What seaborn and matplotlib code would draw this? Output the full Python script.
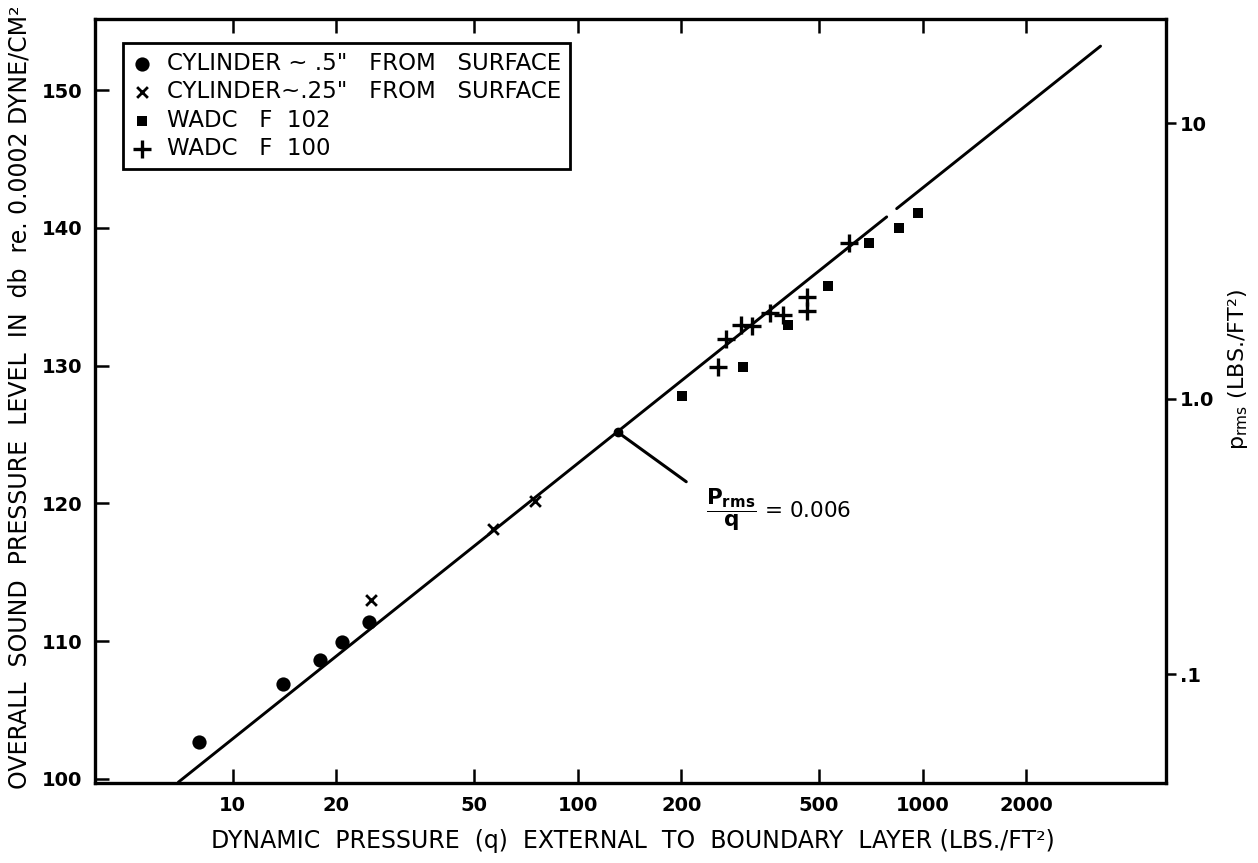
import numpy as np
import pandas as pd
import matplotlib
matplotlib.use("Agg")
import matplotlib.pyplot as plt
import seaborn as sns
from matplotlib.ticker import FixedLocator, NullLocator, FixedFormatter

# ---------------- data ----------------
CYL_05_Q = [8.0, 14.0, 17.9, 20.8, 24.9]
CYL_05_DB = [102.7, 106.9, 108.6, 109.9, 111.4]

CYL_025_Q = [25.2, 56.9, 75.0]
CYL_025_DB = [113.0, 118.1, 120.2]

F102_Q = [201, 302, 406, 533, 697, 855, 972]
F102_DB = [127.8, 129.9, 132.95, 135.8, 138.9, 140.0, 141.05]

F100_Q = [256, 270, 298, 320, 361, 394, 461, 461, 611]
F100_DB = [129.9, 131.9, 132.95, 132.9, 133.8, 133.7, 135.0, 134.0, 138.9]

# fitted line p_rms/q = 0.006 (two segments, with the small gap of the original)
LINE_SEG1_Q = [6.96, 787]
LINE_SEG1_DB = [99.75, 140.8]
LINE_SEG2_Q = [841, 3280]
LINE_SEG2_DB = [141.4, 153.2]

ANNOT_Q = 131.0
ANNOT_DB = 125.15
ANNOT_END_Q = 209.6
ANNOT_END_DB = 121.45
ANNOT_TEXT_Q = 236.0
ANNOT_TEXT_DB = 119.5

LEGEND_LABELS = ['CYLINDER ~ .5"   FROM   SURFACE',
                 'CYLINDER~.25"   FROM   SURFACE',
                 'WADC   F  102',
                 'WADC   F  100']

X_TICKS = [10, 20, 50, 100, 200, 500, 1000, 2000]
X_TICK_LABELS = ["10", "20", "50", "100", "200", "500", "1000", "2000"]
Y_TICKS = [100, 110, 120, 130, 140, 150]
P_TICKS = [10.0, 1.0, 0.1]           # lbs/ft^2
P_TICK_LABELS = ["10", "1.0", ".1"]

# conversion lbs/ft^2 -> dB re 0.0002 dyne/cm^2
LBFT2_TO_DYNECM2 = 478.8
P_REF = 0.0002

# ---------------- style ----------------
sns.set_theme(style="white")
plt.rcParams['font.family'] = ['DejaVu Sans']
plt.rcParams['mathtext.fontset'] = 'dejavusans'
plt.rcParams['axes.linewidth'] = 2.4
for k in ['text.color', 'axes.labelcolor', 'xtick.color', 'ytick.color', 'axes.edgecolor']:
    plt.rcParams[k] = 'black'

W, H = 1258, 863
fig = plt.figure(figsize=(W / 100, H / 100), dpi=100)
fig.patch.set_facecolor("white")
L, R, T, B = 95, 1166, 19, 783
ax = fig.add_axes([L / W, (H - B) / H, (R - L) / W, (B - T) / H])
ax.set_facecolor("white")

ax.set_xscale("log")
ax.set_xlim(3.99, 5077)
ax.set_ylim(99.69, 155.17)

# line
sns.lineplot(x=LINE_SEG1_Q, y=LINE_SEG1_DB, ax=ax, color="black", linewidth=2.1,
             estimator=None, sort=False)
sns.lineplot(x=LINE_SEG2_Q, y=LINE_SEG2_DB, ax=ax, color="black", linewidth=2.1,
             estimator=None, sort=False)

# scatter series
sns.scatterplot(x=CYL_05_Q, y=CYL_05_DB, ax=ax, marker="o", s=105, color="black",
                edgecolor="black", linewidth=0, label=LEGEND_LABELS[0], zorder=3)
sns.scatterplot(x=CYL_025_Q, y=CYL_025_DB, ax=ax, marker="x", s=60, color="black",
                linewidth=2.0, label=LEGEND_LABELS[1], zorder=3)
sns.scatterplot(x=F102_Q, y=F102_DB, ax=ax, marker="s", s=62, color="black",
                edgecolor="black", linewidth=0, label=LEGEND_LABELS[2], zorder=3)
sns.scatterplot(x=F100_Q, y=F100_DB, ax=ax, marker="+", s=150, color="black",
                linewidth=2.4, label=LEGEND_LABELS[3], zorder=3)

# annotation
ax.plot([ANNOT_Q], [ANNOT_DB], marker="o", markersize=6, color="black", zorder=4)
ax.annotate("", xy=(ANNOT_Q, ANNOT_DB), xytext=(ANNOT_END_Q, ANNOT_END_DB),
            arrowprops=dict(arrowstyle="-", color="black", lw=2.2))
ax.text(ANNOT_TEXT_Q, ANNOT_TEXT_DB,
        r"$\dfrac{\mathbf{P}_{\mathbf{rms}}}{\mathbf{q}}$ = 0.006",
        fontsize=15.5, ha="left", va="center", color="black")

# ticks
ax.xaxis.set_major_locator(FixedLocator(X_TICKS))
ax.xaxis.set_major_formatter(FixedFormatter(X_TICK_LABELS))
ax.xaxis.set_minor_locator(NullLocator())
ax.set_yticks(Y_TICKS)
ax.set_yticklabels([str(v) for v in Y_TICKS])
ax.yaxis.set_minor_locator(NullLocator())
ax.tick_params(axis="both", which="major", direction="in", length=10, width=1.8,
               top=True, right=True, bottom=True, left=True, colors="black",
               labelsize=14, pad=9)
for lab in ax.get_xticklabels() + ax.get_yticklabels():
    lab.set_fontweight("bold")

for sp in ax.spines.values():
    sp.set_color("black")
    sp.set_linewidth(2.4)

# right axis: p_rms in lbs/ft^2
ax2 = ax.twinx()
ax2.set_ylim(ax.get_ylim())
p_pos = [20 * np.log10(p * LBFT2_TO_DYNECM2 / P_REF) for p in P_TICKS]
ax2.set_yticks(p_pos)
ax2.set_yticklabels(P_TICK_LABELS)
ax2.yaxis.set_minor_locator(NullLocator())
ax2.tick_params(axis="y", direction="out", length=7, width=1.8, labelsize=14,
                pad=3, colors="black", right=True, left=False)
for lab in ax2.get_yticklabels():
    lab.set_fontweight("bold")
for sp in ax2.spines.values():
    sp.set_visible(False)
ax2.grid(False)

# labels
ax.set_xlabel("DYNAMIC  PRESSURE  (q)  EXTERNAL  TO  BOUNDARY  LAYER (LBS./FT²)",
              fontsize=17, color="black")
ax.xaxis.set_label_coords((633 - L) / (R - L), (B - 829) / (B - T))
ax.set_ylabel("OVERALL  SOUND  PRESSURE  LEVEL  IN  db  re. 0.0002 DYNE/CM²",
              fontsize=17, color="black")
ax.yaxis.set_label_coords((32 - L) / (R - L), (B - 397) / (B - T))
ax2.set_ylabel(r"p$_{\mathrm{rms}}$ (LBS./FT²)", fontsize=16, color="black")
ax2.yaxis.set_label_coords((1226 - L) / (R - L), (B - 370) / (B - T))

# legend
leg = ax.legend(loc="upper left",
                bbox_to_anchor=((123 - L) / (R - L), (B - 43) / (B - T)),
                borderaxespad=0, fontsize=16.5, frameon=True, fancybox=False,
                edgecolor="black", labelspacing=0.23, handlelength=0.9,
                handletextpad=0.6, borderpad=0.4)
leg.get_frame().set_linewidth(2.0)
leg.get_frame().set_facecolor("white")
leg.get_frame().set_alpha(1.0)
for t in leg.get_texts():
    t.set_color("black")

fig.savefig("out.png", dpi=100, facecolor="white")
